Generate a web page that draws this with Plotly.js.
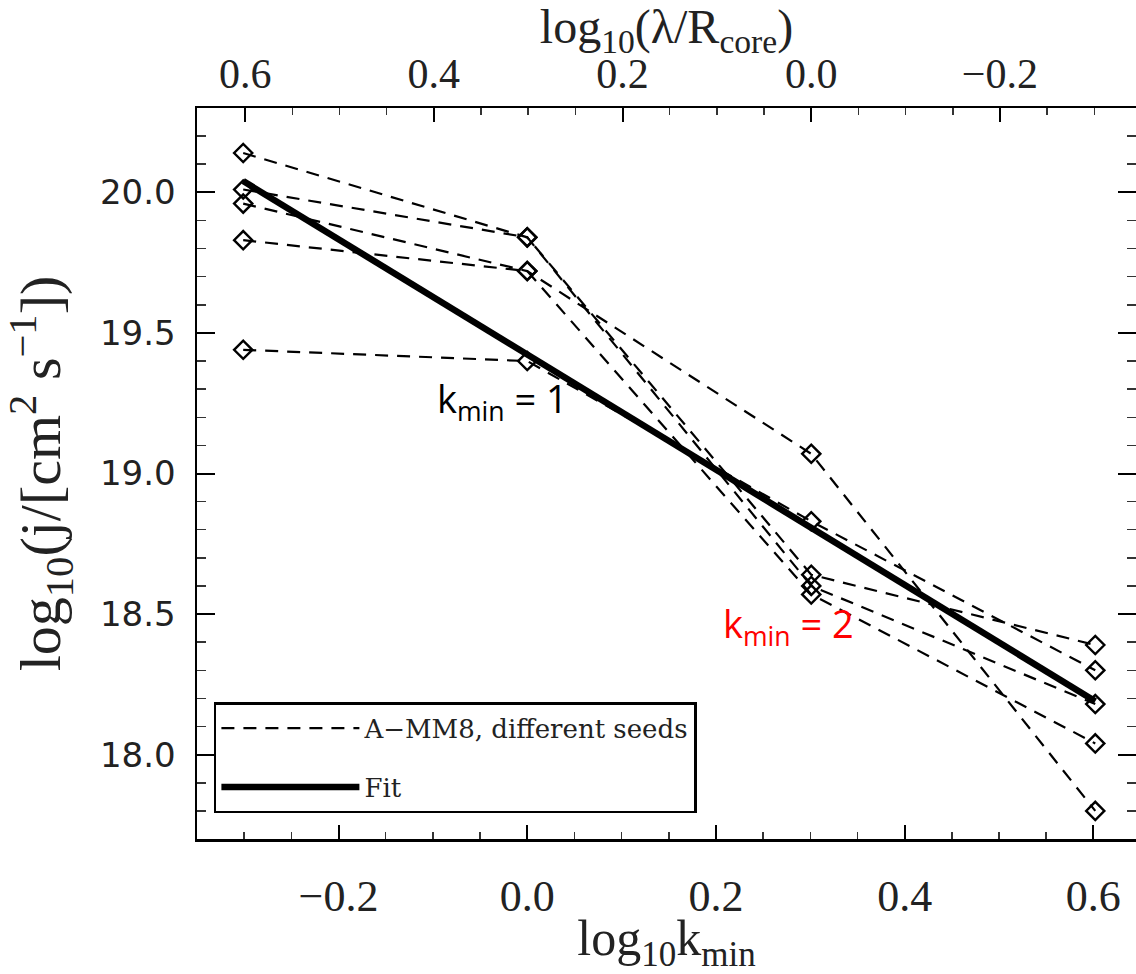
<!DOCTYPE html>
<html>
<head>
<meta charset="utf-8">
<script src="https://cdn.plot.ly/plotly-3.0.1.min.js"></script>
<style>html,body{margin:0;padding:0;background:#fff;overflow:hidden}</style>
</head>
<body>
<div id="chart" style="width:1136px;height:974px"></div>
<script>
// log10 k_min positions
const logK = [-0.30103, 0.0, 0.30103, 0.60206];
// log10(j) per seed (A-MM8, different seeds)
const seed1 = [20.14, 19.84, 18.64, 18.39];
const seed2 = [20.01, 19.84, 18.60, 18.18];
const seed3 = [19.96, 19.72, 19.07, 17.80];
const seed4 = [19.83, 19.72, 18.57, 18.04];
const seed5 = [19.44, 19.40, 18.83, 18.30];
const seeds = [seed1, seed2, seed3, seed4, seed5];
// Fit endpoints
const fitX = [-0.30103, 0.60206];
const fitY = [20.04, 18.19];
// top axis: log10(lambda/Rcore) = log10(2) - log10(kmin)
const topOffset = Math.log10(2);

const SERIF = 'Liberation Serif';

const traces = [];
seeds.forEach((s, i) => {
  traces.push({
    x: logK, y: s, type: 'scatter', mode: 'lines',
    name: 'A\u2212MM8, different seeds',
    showlegend: i === 0, legendgroup: 'seeds',
    line: {color: '#000', width: 2.2, dash: '13px,9px'},
    hoverinfo: 'x+y'
  });
});
seeds.forEach((s) => {
  traces.push({
    x: logK, y: s, type: 'scatter', mode: 'markers',
    showlegend: false, legendgroup: 'seeds',
    marker: {symbol: 'diamond-open', size: 14, color: '#000', line: {width: 2.4, color: '#000'}},
    hoverinfo: 'x+y'
  });
});
traces.push({
  x: fitX, y: fitY, type: 'scatter', mode: 'lines', name: 'Fit',
  legendgroup: 'fit',
  line: {color: '#000', width: 6.5}
});
// hidden trace that carries the top axis
traces.push({
  x: fitX.map(v => topOffset - v), y: fitY, xaxis: 'x2', yaxis: 'y',
  type: 'scatter', mode: 'lines', line: {width: 0, color: 'rgba(0,0,0,0)'},
  showlegend: false, hoverinfo: 'skip'
});

const plotL = 197, plotR = 1136, xPxPerUnit = 943.5;
const xLo = -0.35, xHi = xLo + (plotR - plotL) / xPxPerUnit;

const layout = {
  width: 1136, height: 974,
  paper_bgcolor: '#fff', plot_bgcolor: '#fff',
  margin: {l: 197, r: 0, t: 108, b: 135},
  showlegend: true,
  legend: {
    x: 0.018, y: 0.187, xanchor: 'left', yanchor: 'top',
    bgcolor: '#fff', bordercolor: '#000', borderwidth: 2.5,
    font: {family: 'DejaVu Serif', size: 26, color: '#222'},
    itemwidth: 138, tracegroupgap: 22, traceorder: 'grouped'
  },
  xaxis: {
    range: [xLo, xHi], dtick: 0.2, tick0: 0, tickformat: '.1f',
    ticks: 'inside', ticklen: 14, tickwidth: 2, tickcolor: '#000',
    minor: {dtick: 0.05, tick0: 0, ticks: 'inside', ticklen: 7, tickwidth: 1.5, tickcolor: '#333', showgrid: false},
    showline: true, linecolor: '#000', linewidth: 2.5, showgrid: false, zeroline: false,
    tickfont: {family: SERIF, size: 44, color: '#222'},
    ticklabelstandoff: 17,
    title: {text: 'log<sub>10</sub>k<sub>min</sub>', font: {family: SERIF, size: 50, color: '#222'}, standoff: 9}
  },
  xaxis2: {
    overlaying: 'x', side: 'top', anchor: 'y',
    range: [topOffset - xLo, topOffset - xHi], dtick: 0.2, tick0: 0, tickformat: '.1f',
    ticks: 'inside', ticklen: 14, tickwidth: 2, tickcolor: '#000',
    minor: {dtick: 0.05, tick0: 0, ticks: 'inside', ticklen: 7, tickwidth: 1.5, tickcolor: '#333', showgrid: false},
    showline: true, linecolor: '#000', linewidth: 2.5, showgrid: false, zeroline: false,
    tickfont: {family: SERIF, size: 42, color: '#222'},
    ticklabelstandoff: 1,
    title: {text: 'log<sub>10</sub>(\u03bb/R<sub>core</sub>)', font: {family: SERIF, size: 48, color: '#222'}, standoff: 2}
  },
  yaxis: {
    range: [17.7, 20.3], dtick: 0.5, tick0: 18, tickformat: '.1f',
    ticks: 'inside', ticklen: 18, tickwidth: 2, tickcolor: '#000', mirror: 'ticks',
    minor: {dtick: 0.1, tick0: 18, ticks: 'inside', ticklen: 9, tickwidth: 1.5, tickcolor: '#333', showgrid: false},
    showline: true, linecolor: '#000', linewidth: 2.5, showgrid: false, zeroline: false,
    tickfont: {family: 'DejaVu Sans', size: 34, color: '#222'},
    ticklabelstandoff: 12,
    title: {text: 'log<sub>10</sub>(j/[cm<sup>2</sup> s<sup>\u22121</sup>])', font: {family: SERIF, size: 58, color: '#222'}, standoff: 26}
  },
  annotations: [
    {x: -0.026, y: 19.26, xref: 'x', yref: 'y', showarrow: false,
     text: 'k<sub>min</sub> = 1', font: {family: 'Open Sans', size: 38, color: '#000'}},
    {x: 0.277, y: 18.46, xref: 'x', yref: 'y', showarrow: false,
     text: 'k<sub>min</sub> = 2', font: {family: 'Open Sans', size: 38, color: '#ff0000'}}
  ]
};

Plotly.newPlot('chart', traces, layout, {displayModeBar: false, staticPlot: true});
</script>
</body>
</html>
